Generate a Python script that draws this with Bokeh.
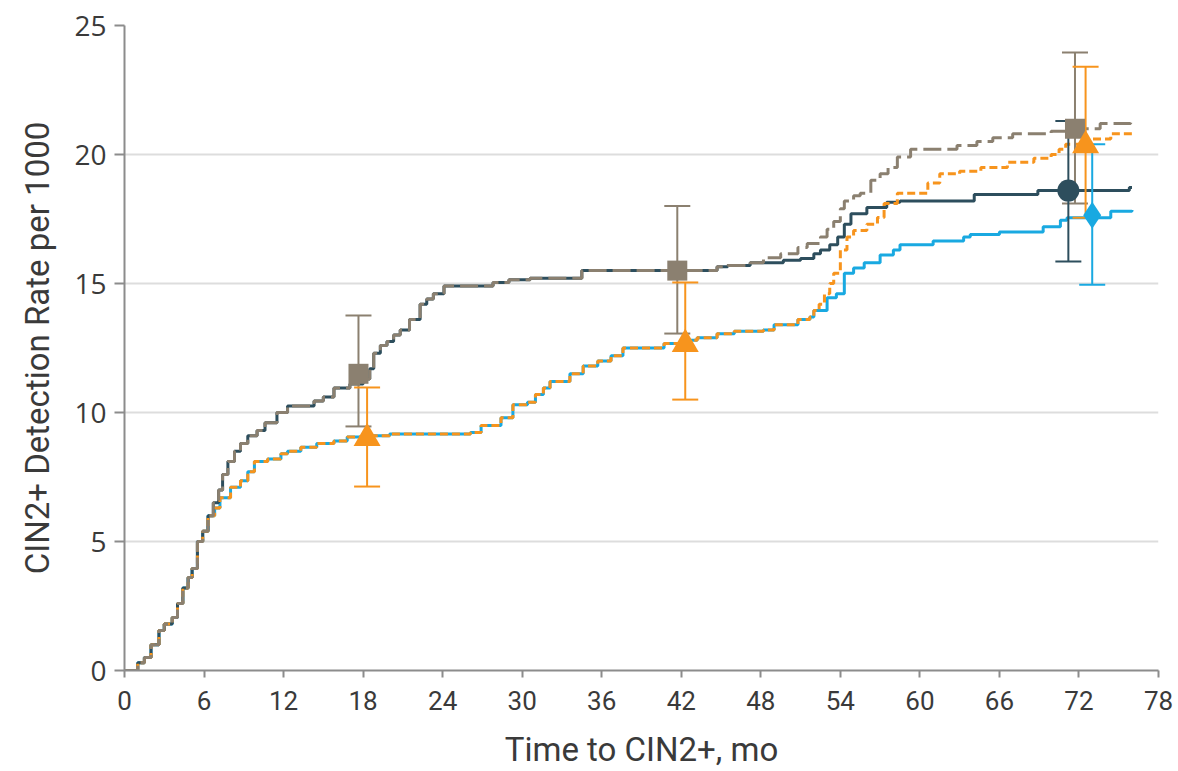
from bokeh.plotting import figure
from bokeh.models import FixedTicker, Range1d
from bokeh.embed import file_html
from bokeh.resources import INLINE

# ---------------- data ----------------
x_ticks = [0, 6, 12, 18, 24, 30, 36, 42, 48, 54, 60, 66, 72, 78]
y_ticks = [0, 5, 10, 15, 20, 25]

# shared early part of all curves (months, rate per 1000)
early_t = [0, 1.0, 1.5, 2.0, 2.6, 3.0, 3.6, 4.0, 4.4, 4.8, 5.1, 5.5, 5.9, 6.3]
early_v = [0, 0.3, 0.5, 1.0, 1.55, 1.8, 2.05, 2.6, 3.2, 3.6, 3.95, 5.0, 5.4, 6.0]

# upper pair (navy solid / gray dashed) shared part
upper_t = [6.7, 7.1, 7.4, 7.8, 8.3, 8.75, 9.3, 10.0, 10.6, 11.5, 12.3, 14.3, 15.0,
           15.8, 17.0, 18.0, 18.5, 18.8, 19.3, 19.8, 20.3, 20.8, 21.5, 22.3, 22.8,
           23.3, 24.1, 27.8, 29.0, 30.6, 34.5, 44.7, 45.5, 47.2]
upper_v = [6.5, 7.0, 7.6, 8.1, 8.5, 8.8, 9.1, 9.3, 9.6, 10.0, 10.25, 10.45, 10.6,
           10.95, 11.1, 11.3, 11.7, 12.3, 12.6, 12.75, 13.0, 13.2, 13.6, 14.2, 14.4,
           14.6, 14.9, 15.04, 15.15, 15.2, 15.5, 15.65, 15.7, 15.8]

navy_tail_t = [49.7, 51.0, 52.0, 52.5, 53.2, 53.8, 54.3, 54.8, 56.0, 57.5, 58.5, 64.1, 68.9, 75.8, 76.0]
navy_tail_v = [15.9, 15.97, 16.15, 16.3, 16.5, 16.8, 17.3, 17.7, 17.95, 18.15, 18.2, 18.45, 18.6, 18.72, 18.72]

gray_tail_t = [48.2, 49.5, 50.8, 51.5, 52.5, 53.0, 53.5, 54.0, 54.3, 55.0, 55.5, 56.3, 57.0,
               57.6, 58.3, 59.3, 62.8, 64.3, 65.5, 67.0, 69.9, 71.5, 73.6, 75.9, 76.0]
gray_tail_v = [16.0, 16.15, 16.4, 16.55, 16.8, 17.1, 17.4, 17.9, 18.2, 18.4, 18.5, 19.0, 19.25,
               19.5, 19.9, 20.2, 20.35, 20.5, 20.65, 20.8, 20.9, 21.0, 21.2, 21.4, 21.4]

# lower pair (blue solid / orange dashed) shared part
lower_t = [6.8, 7.2, 8.0, 8.75, 9.3, 9.8, 10.8, 11.8, 12.3, 13.3, 14.5, 15.8, 16.8, 18.5,
           20.0, 26.1, 26.9, 28.4, 29.3, 30.4, 31.0, 31.6, 32.1, 33.6, 34.6, 35.7, 36.7,
           37.6, 40.7, 42.2, 43.2, 44.7, 46.0, 48.2, 49.0, 50.8, 51.7, 52.0]
lower_v = [6.3, 6.7, 7.1, 7.35, 7.7, 8.1, 8.2, 8.4, 8.5, 8.65, 8.8, 8.9, 9.05, 9.1,
           9.17, 9.22, 9.5, 9.8, 10.3, 10.4, 10.7, 10.95, 11.2, 11.5, 11.8, 12.0, 12.2,
           12.5, 12.67, 12.8, 12.9, 13.05, 13.15, 13.2, 13.4, 13.6, 13.7, 13.95]

orange_tail_t = [52.4, 52.8, 53.2, 53.5, 54.0, 54.5, 55.0, 56.0, 56.8, 57.3, 58.3, 60.6, 61.5,
                 63.0, 64.6, 66.6, 68.6, 69.9, 70.5, 71.0, 72.5, 74.4, 76.0]
orange_tail_v = [14.2, 14.6, 15.0, 15.4, 16.3, 16.8, 17.05, 17.3, 17.56, 18.1, 18.5, 18.9, 19.25,
                 19.35, 19.5, 19.7, 19.85, 20.0, 20.2, 20.4, 20.6, 20.8, 20.85]

blue_tail_t = [53.0, 53.7, 54.3, 55.0, 55.8, 57.0, 58.0, 58.5, 61.0, 63.3, 63.8, 66.0, 69.3,
               70.6, 71.1, 74.4, 76.0]
blue_tail_v = [14.45, 14.6, 15.4, 15.6, 15.8, 16.1, 16.3, 16.5, 16.65, 16.8, 16.9, 17.0, 17.2,
               17.45, 17.55, 17.8, 17.85]

# point estimates with 95% CIs
sq_t, sq_v, sq_lo, sq_hi = [17.65, 41.7, 71.7], [11.5, 15.5, 21.0], [9.46, 13.06, 18.1], [13.76, 18.0, 23.95]
tri_t, tri_v, tri_lo, tri_hi = [18.3, 42.3, 72.5], [9.0, 12.65, 20.35], [7.13, 10.5, 17.55], [10.97, 15.04, 23.4]
cir_t, cir_v, cir_lo, cir_hi = [71.2], [18.6], [15.85], [21.3]
dia_t, dia_v, dia_lo, dia_hi = [73.0], [17.65], [14.95], [20.4]

NAVY = "#2d4e5d"
GRAY = "#8b8070"
ORANGE = "#f7941d"
BLUE = "#19a9e1"
AXIS = "#8c8c8c"
TEXT = "#3a3a3a"
LABEL_FONT = "Roboto"

navy_t = early_t + upper_t + navy_tail_t
navy_v = early_v + upper_v + navy_tail_v
gray_t = early_t + upper_t + gray_tail_t
gray_v = early_v + upper_v + gray_tail_v
blue_t = early_t + lower_t + blue_tail_t
blue_v = early_v + lower_v + blue_tail_v
orange_t = early_t + lower_t + orange_tail_t
orange_v = early_v + lower_v + orange_tail_v

p = figure(width=1173, height=771, x_range=Range1d(0, 78), y_range=Range1d(0, 25),
           output_backend="svg", toolbar_location=None,
           min_border_left=124, min_border_right=15, min_border_top=25, min_border_bottom=101)
p.outline_line_color = None
p.background_fill_color = "white"
p.xgrid.visible = False
p.ygrid.ticker = FixedTicker(ticks=[5, 10, 15, 20])
p.ygrid.grid_line_color = "#dddddd"
p.ygrid.grid_line_width = 2

p.xaxis.ticker = FixedTicker(ticks=x_ticks)
p.yaxis.ticker = FixedTicker(ticks=y_ticks)
for ax in (p.xaxis[0], p.yaxis[0]):
    ax.axis_line_color = AXIS
    ax.axis_line_width = 2
    ax.major_tick_line_color = AXIS
    ax.major_tick_line_width = 2
    ax.major_tick_in = 0
    ax.minor_tick_line_color = None
    ax.major_label_text_color = TEXT
    ax.axis_label_text_color = TEXT
    ax.axis_label_text_font = LABEL_FONT
    ax.axis_label_text_font_style = "normal"
    ax.axis_label_text_font_size = "33px"

p.xaxis.major_tick_out = 7
p.xaxis.major_label_text_font = LABEL_FONT
p.xaxis.major_label_text_font_size = "26px"
p.xaxis.major_label_standoff = 13
p.xaxis.axis_label = "Time to CIN2+, mo"
p.xaxis.axis_label_standoff = 17

p.yaxis.major_tick_out = 10
p.yaxis.major_label_text_font = "Open Sans"
p.yaxis.major_label_text_font_size = "28px"
p.yaxis.major_label_standoff = 8
p.yaxis.axis_label = "CIN2+ Detection Rate per 1000"
p.yaxis.axis_label_standoff = 14

# curves
p.step(blue_t, blue_v, mode="after", line_color=BLUE, line_width=3)
p.step(navy_t, navy_v, mode="after", line_color=NAVY, line_width=3)
p.step(orange_t, orange_v, mode="after", line_color=ORANGE, line_width=3, line_dash="8 4")
p.step(gray_t, gray_v, mode="after", line_color=GRAY, line_width=3, line_dash="18 6")

# error bars
def errbars(t, lo, hi, color):
    p.segment(x0=t, y0=lo, x1=t, y1=hi, line_color=color, line_width=2)
    p.scatter(t, lo, marker="dash", size=26, line_color=color, line_width=2)
    p.scatter(t, hi, marker="dash", size=26, line_color=color, line_width=2)

errbars(sq_t, sq_lo, sq_hi, GRAY)
errbars(cir_t, cir_lo, cir_hi, NAVY)
errbars(tri_t, tri_lo, tri_hi, ORANGE)
errbars(dia_t, dia_lo, dia_hi, BLUE)

p.scatter(sq_t, sq_v, marker="square", size=20, fill_color=GRAY, line_color=None)
p.scatter(cir_t, cir_v, marker="circle", size=22, fill_color=NAVY, line_color=None)
p.scatter(tri_t, tri_v, marker="triangle", size=27, fill_color=ORANGE, line_color=None)
p.scatter(dia_t, dia_v, marker="diamond", size=27, fill_color=BLUE, line_color=None)

open("out.html", "w").write(file_html(p, INLINE))
